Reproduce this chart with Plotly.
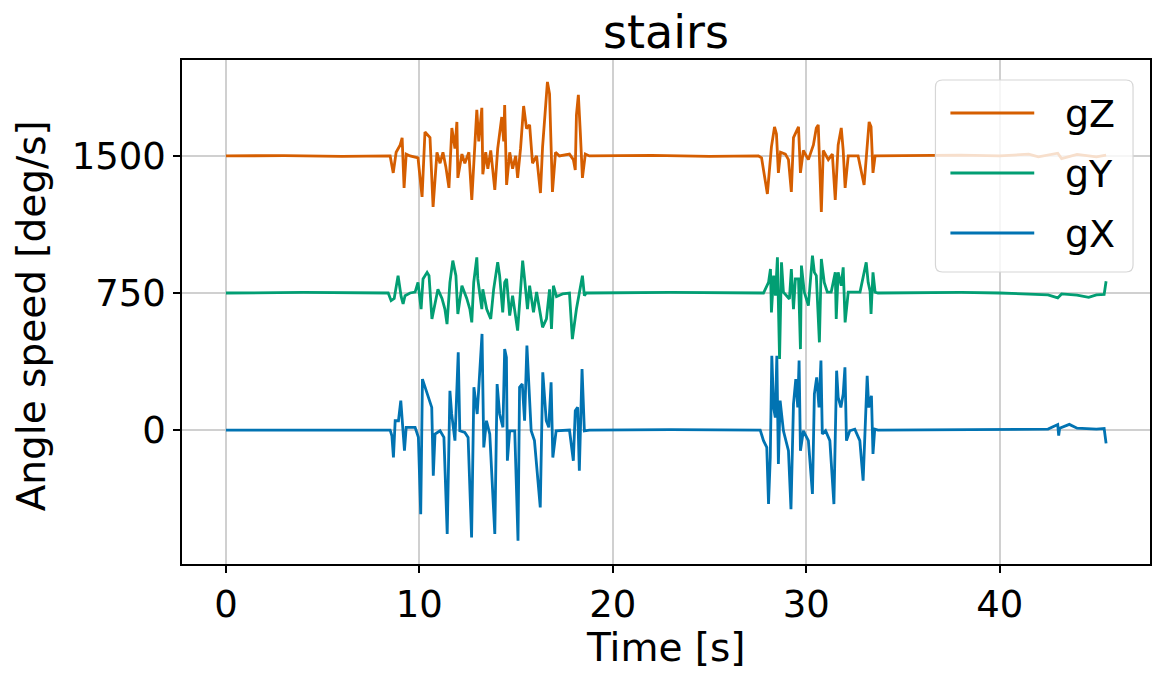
import plotly.graph_objects as go

# ---- gyroscope readings (deg/s), one time axis per channel ----
T_Z = [0, 3, 6, 8.49, 8.65, 8.80, 9.01, 9.11, 9.21, 9.32, 9.52, 9.93,
       10.14, 10.29, 10.55, 10.71, 10.91, 11.07, 11.22, 11.37,
       11.53, 11.63, 11.68, 11.84, 11.94, 11.99, 12.20, 12.35,
       12.56, 12.71, 12.87, 12.97, 13.07, 13.23, 13.28, 13.43,
       13.54, 13.69, 13.90, 14.05, 14.26, 14.36, 14.41, 14.51,
       14.67, 14.82, 14.98, 15.08, 15.23, 15.39, 15.54, 15.70,
       15.85, 16.06, 16.26, 16.37, 16.62, 16.73, 16.88, 17.04,
       17.24, 17.76, 17.96, 18.06, 18.12, 18.22, 18.32, 18.43,
       18.58, 18.79, 22, 25, 27.53, 27.69, 27.99, 28.20,
       28.36, 28.46, 28.56, 28.67, 28.92, 29.08, 29.23, 29.34,
       29.60, 29.70, 29.85, 30.11, 30.37, 30.52, 30.62, 30.78,
       30.88, 31.14, 31.35, 31.50, 31.65, 31.81, 31.91, 32.01,
       32.17, 32.68, 32.99, 33.10, 33.25, 33.35, 33.45, 33.56,
       36, 38, 40, 41.5, 42, 43, 43.2, 44, 45, 45.5]
GZ = [0, 2, -2, 0, -93, 20, 60, 99, -175, 10, 0, -10,
      -224, 131, 100, -279, 20, -40, 20, -60,
      -175, 60, 153, 40, 186, -120, 10, -40,
      20, -241, 60, 252, 80, 263, -100, 20,
      -70, 30, -186, 40, 213, 80, 279, -159,
      20, -70, 0, -120, 40, 273, 150, 170,
      -40, 0, -203, 50, 405, 340, -197, 20,
      0, 10, -20, -77, 224, 334, 130, -120,
      10, 0, 3, -2, 0, -10, -208, 50,
      159, 120, -93, 20, 10, -20, -197, 100,
      159, -93, 30, -20, 60, 153, 170, -307,
      30, -20, 10, -241, 60, 153, 30, -175,
      0, 0, -159, -20, 186, 160, -93, 0,
      3, 5, 0, 10, -5, 15, -15, 8, -5, 5]

T_Y = [0, 4, 8.39, 8.54, 8.70, 8.90, 9.06, 9.16,
       9.26, 9.52, 9.78, 9.93, 10.09, 10.19, 10.40, 10.50,
       10.65, 10.81, 10.96, 11.17, 11.32, 11.43, 11.58, 11.73,
       11.89, 11.99, 12.20, 12.45, 12.61, 12.71, 12.81, 12.97,
       13.02, 13.23, 13.28, 13.48, 13.69, 13.84, 14.05, 14.15,
       14.31, 14.41, 14.51, 14.67, 14.82, 15.08, 15.18, 15.34,
       15.44, 15.59, 15.70, 15.90, 16.06, 16.26, 16.37, 16.57,
       16.73, 16.83, 16.93, 17.09, 17.40, 17.76, 17.91, 18.12,
       18.27, 18.43, 18.53, 18.63, 23, 27.79, 28.05, 28.15,
       28.20, 28.31, 28.41, 28.51, 28.62, 28.72, 28.82, 29.13,
       29.23, 29.34, 29.44, 29.60, 29.70, 29.75, 29.90, 30.11,
       30.32, 30.42, 30.52, 30.68, 30.78, 30.93, 31.09, 31.29,
       31.50, 31.55, 31.65, 31.81, 31.91, 32.01, 32.17, 32.78,
       33.10, 33.20, 33.30, 33.35, 33.45, 33.56, 33.71, 38,
       40, 41, 42.5, 43, 43.2, 44, 44.6, 45, 45.4, 45.5]
GY = [0, 3, 0, -42, -30, 95, -20, -60,
      -15, 0, 5, 58, -88, 77, 113, 95,
      -142, -50, 20, -30, -88, -170, 58, 177,
      95, -115, 40, -30, -88, -161, 58, 195,
      77, -88, 20, -88, -142, 20, 168, 95,
      -106, 58, 77, -124, -15, -206, -50, 177,
      77, -88, 40, -106, 5, -124, -188, -142,
      20, -197, 40, -20, -5, 0, -252, -88,
      0, 95, -15, 0, 3, 0, 58, 131,
      -106, 95, -15, 195, -361, 168, 5, -33,
      131, -88, 77, 77, -307, 150, 5, -69,
      204, 113, 95, -270, 186, 58, 5, 5,
      113, -142, 113, 40, 140, -161, 5, 5,
      168, 58, 10, -115, 113, 5, 0, 3,
      0, -5, -10, -27, -5, -12, -24, -10, -8, 64]

T_X = [0, 5, 8.49, 8.58, 8.66, 8.75, 8.92, 9.04,
       9.14, 9.23, 9.32, 9.78, 9.95, 10.07, 10.16, 10.29,
       10.46, 10.64, 10.72, 10.81, 11.07, 11.27, 11.44, 11.58,
       11.67, 11.84, 12.01, 12.09, 12.35, 12.52, 12.70, 12.82,
       12.99, 13.12, 13.24, 13.33, 13.47, 13.64, 13.90, 14.02,
       14.15, 14.32, 14.41, 14.50, 14.55, 14.67, 14.93, 15.10,
       15.18, 15.32, 15.44, 15.56, 15.66, 15.78, 15.95, 16.25,
       16.38, 16.56, 16.69, 16.81, 16.90, 17.07, 17.76, 17.96,
       18.06, 18.18, 18.27, 18.41, 18.53, 18.79, 23, 27.62,
       27.79, 27.96, 28.05, 28.14, 28.22, 28.31, 28.40, 28.48,
       28.56, 28.65, 28.82, 29.08, 29.21, 29.34, 29.46, 29.56,
       29.63, 29.70, 29.85, 30.11, 30.32, 30.42, 30.54, 30.66,
       30.76, 30.83, 31.00, 31.22, 31.43, 31.57, 31.65, 31.79,
       31.91, 32.00, 32.08, 32.25, 32.51, 32.77, 32.94, 33.03,
       33.15, 33.23, 33.37, 33.45, 33.54, 33.71, 38, 42.5,
       43.0, 43.05, 43.1, 43.6, 44, 45, 45.4, 45.5]
GX = [0, 2, 0, -31, -150, 51, 51, 161,
      33, -113, 15, 15, -40, -460, 279, 234,
      188, 124, -250, -22, -4, -40, -569, 215,
      88, -58, 425, -4, -13, -40, -588, 234,
      88, 325, 526, -95, 51, -22, -569, 252,
      88, 15, 443, 398, -168, -4, -4, -606,
      234, 252, 51, 462, 234, -4, -58, -423,
      316, 51, 15, 261, -150, -4, 0, -168,
      106, 124, -223, 334, -4, 0, 2, 0,
      -58, -95, -405, -150, 407, 124, 69, 407,
      -186, 161, -4, -113, -433, 142, 279, 124,
      380, -113, -4, -58, -350, 197, 288, 124,
      380, -22, -4, -58, -405, 325, 179, 124,
      197, 343, -58, -4, 5, -58, -277, -4,
      297, 124, 188, -131, 5, 0, 2, 5,
      30, -30, 10, 31, 10, 5, 8, -73]

CHANNELS = ["gX", "gY", "gZ"]
OFFSETS = {"gX": 0, "gY": 750, "gZ": 1500}
COLORS = {"gX": "#0173B2", "gY": "#029E73", "gZ": "#D55E00"}
SERIES = {"gX": (T_X, GX), "gY": (T_Y, GY), "gZ": (T_Z, GZ)}

X_TICKS = [0, 10, 20, 30, 40]
Y_TICKS = [0, 750, 1500]

# ---- page geometry (pixels) ----
W, H = 1156, 673
L, R, T, B = 182, 1152, 60, 564
FONT = "DejaVu Sans"


def px_x(px):
    return (px - L) / (R - L)


def px_y(py):
    return (B - py) / (B - T)


fig = go.Figure()
for name in CHANNELS:
    t, v = SERIES[name]
    assert len(t) == len(v)
    fig.add_trace(go.Scatter(
        x=t, y=[val + OFFSETS[name] for val in v], mode="lines", name=name,
        line=dict(color=COLORS[name], width=2.8), showlegend=False,
    ))

axis_common = dict(
    showline=True, mirror=True, linecolor="black", linewidth=1.5,
    ticks="outside", ticklen=7, tickwidth=1.5, tickcolor="black",
    showgrid=True, gridcolor="#d0d0d0", gridwidth=1.5, zeroline=False,
    tickfont=dict(family=FONT, size=37, color="black"),
)
fig.update_xaxes(range=[-2.27, 47.77], tickvals=X_TICKS, **axis_common)
fig.update_yaxes(range=[-733, 2025], tickvals=Y_TICKS, **axis_common)

annotations = [
    dict(text="stairs", x=0.5, y=px_y(32), xref="paper", yref="paper",
         showarrow=False, xanchor="center", yanchor="middle",
         font=dict(family=FONT, size=46, color="black")),
    dict(text="Time [s]", x=0.5, y=px_y(647), xref="paper", yref="paper",
         showarrow=False, xanchor="center", yanchor="middle",
         font=dict(family=FONT, size=39, color="black")),
    dict(text="Angle speed [deg/s]", x=px_x(31), y=px_y(316), xref="paper",
         yref="paper", showarrow=False, xanchor="center", yanchor="middle",
         textangle=-90, font=dict(family=FONT, size=39, color="black")),
]

# legend box drawn by hand: rounded frame, sample lines and labels
lx0, lx1, ly0, ly1, rad = 937, 1135, 80, 272, 7
x0, x1 = px_x(lx0), px_x(lx1)
y0, y1 = px_y(ly1), px_y(ly0)
rx, ry = rad / (R - L), rad / (B - T)
frame = (f"M {x0 + rx} {y1} L {x1 - rx} {y1} Q {x1} {y1} {x1} {y1 - ry} "
         f"L {x1} {y0 + ry} Q {x1} {y0} {x1 - rx} {y0} L {x0 + rx} {y0} "
         f"Q {x0} {y0} {x0} {y0 + ry} L {x0} {y1 - ry} Q {x0} {y1} {x0 + rx} {y1} Z")
shapes = [dict(type="path", path=frame, xref="paper", yref="paper",
               fillcolor="rgba(255,255,255,0.8)",
               line=dict(color="#d6d6d6", width=1.2), layer="above")]
legend_rows = [("gZ", 113), ("gY", 173), ("gX", 233)]
for name, row_y in legend_rows:
    shapes.append(dict(type="line", xref="paper", yref="paper",
                       x0=px_x(952), x1=px_x(1036), y0=px_y(row_y), y1=px_y(row_y),
                       line=dict(color=COLORS[name], width=3), layer="above"))
    annotations.append(dict(text=name, x=px_x(1065), y=px_y(row_y + 1),
                            xref="paper", yref="paper", showarrow=False,
                            xanchor="left", yanchor="middle",
                            font=dict(family=FONT, size=38, color="black")))

fig.update_layout(
    width=W, height=H,
    margin=dict(l=L, r=W - R, t=T, b=H - B, pad=0),
    paper_bgcolor="white", plot_bgcolor="white",
    annotations=annotations, shapes=shapes, showlegend=False,
)

fig.write_html("out.html", config={"displayModeBar": False})
